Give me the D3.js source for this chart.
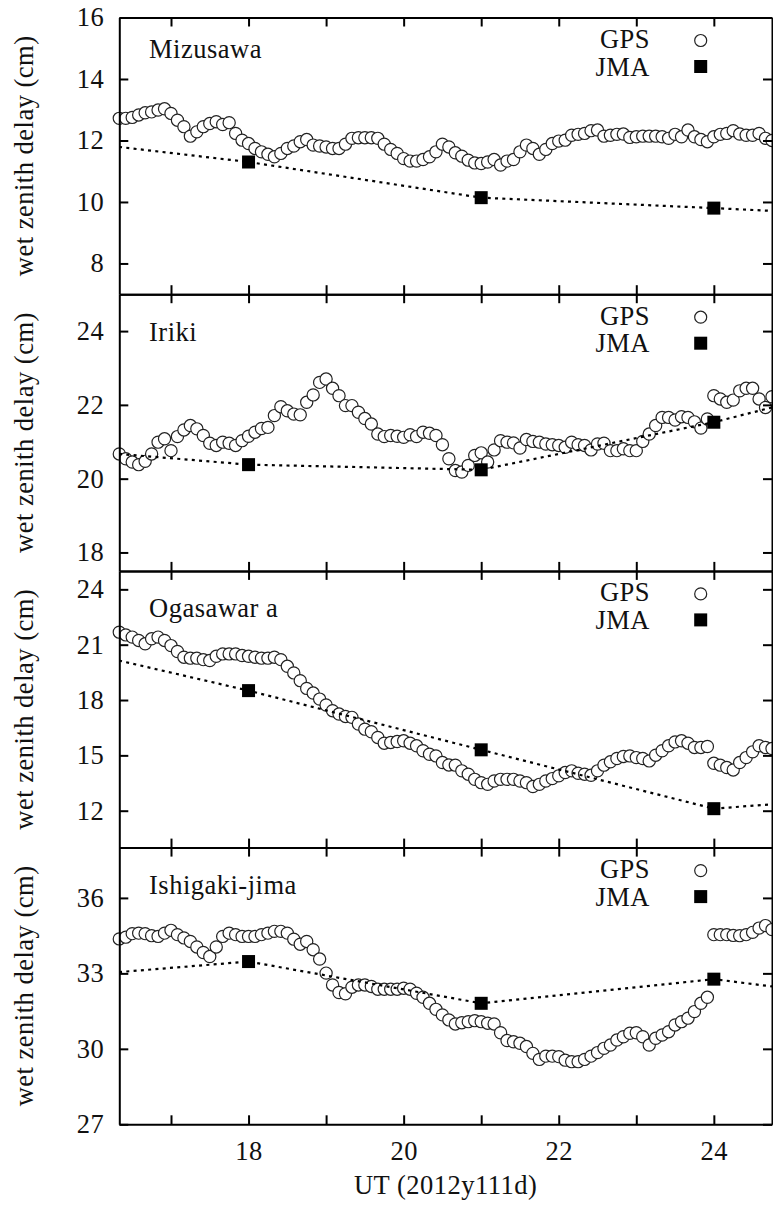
<!DOCTYPE html>
<html>
<head>
<meta charset="utf-8">
<script src="https://cdn.jsdelivr.net/npm/d3@7"></script>
<style>
body { margin: 0; background: #fff; }
svg text { font-family: "Liberation Serif", "DejaVu Serif", serif; fill: #111; letter-spacing: 0.5px; }
</style>
</head>
<body>
<div class="chart-container"></div>
<script>
// GPS solutions every 5 minutes from 16:20 UT
var gpsStart = 16 + 20 / 60,
    gpsStep = 5 / 60;

var stations = ["Mizusawa", "Iriki", "Ogasawar a", "Ishigaki-jima"];

var mizusawaGps = [12.72, 12.72, 12.75, 12.83, 12.90, 12.93, 12.99, 13.03, 12.88, 12.66,
  12.45, 12.14, 12.28, 12.45, 12.55, 12.61, 12.52, 12.58, 12.23, 12.01,
  11.90, 11.74, 11.63, 11.55, 11.47, 11.58, 11.74, 11.82, 11.96, 12.03,
  11.85, 11.82, 11.79, 11.74, 11.74, 11.88, 12.07, 12.09, 12.09, 12.09,
  12.07, 11.88, 11.71, 11.58, 11.41, 11.33, 11.33, 11.38, 11.47, 11.63,
  11.88, 11.79, 11.60, 11.49, 11.36, 11.27, 11.25, 11.30, 11.38, 11.20,
  11.33, 11.38, 11.63, 11.85, 11.74, 11.55, 11.71, 11.90, 11.98, 12.01,
  12.17, 12.20, 12.23, 12.32, 12.34, 12.14, 12.17, 12.20, 12.21, 12.10,
  12.12, 12.14, 12.14, 12.14, 12.12, 12.07, 12.20, 12.12, 12.34, 12.12,
  12.03, 11.96, 12.12, 12.20, 12.23, 12.32, 12.21, 12.17, 12.17, 12.23,
  12.07, 12.00];

var irikiGps = [20.67, 20.54, 20.45, 20.38, 20.47, 20.67, 20.99, 21.08, 20.76, 21.14,
  21.32, 21.44, 21.35, 21.17, 20.96, 20.90, 20.99, 20.96, 20.90, 21.03,
  21.15, 21.26, 21.36, 21.39, 21.71, 21.95, 21.84, 21.75, 21.73, 22.07,
  22.27, 22.61, 22.70, 22.45, 22.25, 21.98, 21.98, 21.80, 21.63, 21.48,
  21.21, 21.14, 21.17, 21.15, 21.12, 21.19, 21.14, 21.26, 21.23, 21.17,
  20.92, 20.54, 20.22, 20.18, 20.36, 20.63, 20.70, 20.45, 20.78, 21.03,
  20.99, 20.97, 20.83, 21.06, 21.01, 20.99, 20.94, 20.92, 20.90, 20.85,
  20.99, 20.92, 20.90, 20.78, 20.94, 20.96, 20.76, 20.76, 20.81, 20.76,
  20.76, 21.01, 21.21, 21.44, 21.66, 21.66, 21.59, 21.68, 21.66, 21.54,
  21.37, 21.62, 22.25, 22.16, 22.07, 22.13, 22.38, 22.45, 22.45, 22.16,
  21.93, 22.22];

var ogasawaraGps = [21.68, 21.53, 21.41, 21.23, 21.05, 21.32, 21.41, 21.23, 20.95, 20.63,
  20.32, 20.27, 20.27, 20.19, 20.14, 20.37, 20.50, 20.50, 20.50, 20.41,
  20.37, 20.32, 20.27, 20.27, 20.32, 20.19, 19.83, 19.47, 19.05, 18.63,
  18.38, 18.05, 17.73, 17.42, 17.24, 17.11, 17.06, 16.70, 16.42, 16.28,
  15.97, 15.66, 15.70, 15.75, 15.79, 15.66, 15.52, 15.25, 15.06, 14.97,
  14.61, 14.48, 14.47, 14.16, 13.98, 13.70, 13.52, 13.43, 13.61, 13.70,
  13.70, 13.70, 13.61, 13.52, 13.31, 13.43, 13.61, 13.74, 13.89, 14.07,
  14.16, 14.03, 13.98, 13.92, 14.16, 14.47, 14.65, 14.83, 14.94, 14.97,
  14.88, 14.83, 14.70, 15.01, 15.25, 15.52, 15.73, 15.79, 15.66, 15.43,
  15.43, 15.48, 14.57, 14.47, 14.34, 14.21, 14.61, 14.88, 15.19, 15.52,
  15.43, 15.37];

var ishigakiGps = [34.37, 34.44, 34.58, 34.60, 34.58, 34.50, 34.47, 34.60, 34.71, 34.54,
  34.41, 34.27, 34.05, 33.83, 33.67, 34.05, 34.47, 34.60, 34.54, 34.47,
  34.47, 34.47, 34.54, 34.60, 34.67, 34.67, 34.60, 34.36, 34.16, 34.27,
  33.94, 33.57, 33.01, 32.54, 32.24, 32.19, 32.45, 32.54, 32.54, 32.48,
  32.37, 32.37, 32.37, 32.37, 32.41, 32.37, 32.21, 32.05, 31.81, 31.57,
  31.35, 31.15, 30.99, 31.04, 31.08, 31.12, 31.08, 31.02, 30.99, 30.64,
  30.33, 30.28, 30.22, 30.09, 29.82, 29.58, 29.71, 29.71, 29.69, 29.55,
  29.49, 29.49, 29.58, 29.71, 29.85, 30.02, 30.15, 30.35, 30.48, 30.62,
  30.64, 30.48, 30.15, 30.42, 30.55, 30.68, 30.95, 31.08, 31.22, 31.48,
  31.81, 32.05, 34.54, 34.54, 34.54, 34.51, 34.50, 34.54, 34.63, 34.80,
  34.90, 34.74];

// JMA analysis: dotted line runs edge to edge, squares only at 18, 21, 24 UT
var jmaTimes = [16.33, 18, 21, 24, 24.75],
    jmaMarked = [false, true, true, true, false];

var mizusawaJma = [11.79, 11.30, 10.14, 9.80, 9.71];
var irikiJma = [20.67, 20.38, 20.24, 21.53, 21.93];
var ogasawaraJma = [20.14, 18.51, 15.30, 12.11, 12.35];
var ishigakiJma = [33.05, 33.47, 31.81, 32.77, 32.48];

// y ranges and tick labels per station
var mizusawaRange = [7, 16], mizusawaTicks = [8, 10, 12, 14, 16];
var irikiRange = [17.5, 25], irikiTicks = [18, 20, 22, 24];
var ogasawaraRange = [10, 25], ogasawaraTicks = [12, 15, 18, 21, 24];
var ishigakiRange = [27, 38], ishigakiTicks = [27, 30, 33, 36];

var hourRange = [16 + 20 / 60, 24.75],
    hourTicks = [17, 18, 19, 20, 21, 22, 23, 24],
    hourLabels = [18, 20, 22, 24];

var panels = [
  {name: stations[0], gps: mizusawaGps, jma: mizusawaJma, range: mizusawaRange, ticks: mizusawaTicks, nameDy: 40},
  {name: stations[1], gps: irikiGps, jma: irikiJma, range: irikiRange, ticks: irikiTicks, nameDy: 46.5},
  {name: stations[2], gps: ogasawaraGps, jma: ogasawaraJma, range: ogasawaraRange, ticks: ogasawaraTicks, nameDy: 46},
  {name: stations[3], gps: ishigakiGps, jma: ishigakiJma, range: ishigakiRange, ticks: ishigakiTicks, nameDy: 46.5}
];

var chartWidth = 773,
    chartHeight = 1206,
    plotLeft = 119.3,
    plotRight = 772,
    plotTop = 17.5,
    panelHeight = 276.7,
    fontSize = 26.5,
    serif = "'Liberation Serif', 'DejaVu Serif', serif";

var svg = d3.select("div.chart-container").append("svg")
    .attr("width", chartWidth)
    .attr("height", chartHeight);

var x = d3.scaleLinear()
    .domain(hourRange)
    .range([plotLeft, plotRight]);

var line = d3.line()
    .x(function(d) { return x(d.t); })
    .y(function(d) { return d.y; });

function styleAxis(g) {
  g.attr("font-size", fontSize)
    .attr("font-family", null);
  g.selectAll("path.domain").attr("stroke", "#000").attr("stroke-width", 2);
  g.selectAll(".tick line").attr("stroke", "#000").attr("stroke-width", 2);
  g.selectAll(".tick text")
      .attr("fill", "#111")
      .style("font-family", serif);
}

panels.forEach(function(p, k) {
  var y0 = plotTop + panelHeight * k,
      y1 = y0 + panelHeight;

  var y = d3.scaleLinear()
      .domain(p.range)
      .range([y1, y0]);

  var g = svg.append("g").attr("class", "panel");

  g.append("clipPath")
      .attr("id", "clip" + k)
    .append("rect")
      .attr("x", plotLeft)
      .attr("y", y0)
      .attr("width", plotRight - plotLeft)
      .attr("height", panelHeight);

  // GPS circles, white filled so later ones cover earlier ones
  g.selectAll("circle.gps")
      .data(p.gps)
    .enter().append("circle")
      .attr("class", "gps")
      .attr("cx", function(d, i) { return x(gpsStart + i * gpsStep); })
      .attr("cy", function(d) { return y(d); })
      .attr("r", 6.1)
      .attr("fill", "#fff")
      .attr("stroke", "#222")
      .attr("stroke-width", 1.2);

  // JMA dotted line on top of the circles
  var jmaPts = p.jma.map(function(v, i) { return {t: jmaTimes[i], y: y(v)}; });
  g.append("path")
      .attr("clip-path", "url(#clip" + k + ")")
      .attr("d", line(jmaPts))
      .attr("fill", "none")
      .attr("stroke", "#000")
      .attr("stroke-width", 2.2)
      .attr("stroke-dasharray", "3,4.3");

  // JMA squares
  g.selectAll("rect.jma")
      .data(jmaPts.filter(function(d, i) { return jmaMarked[i]; }))
    .enter().append("rect")
      .attr("class", "jma")
      .attr("x", function(d) { return x(d.t) - 6.5; })
      .attr("y", function(d) { return d.y - 6.5; })
      .attr("width", 13)
      .attr("height", 13)
      .attr("fill", "#000");

  // frame with inward ticks on all four sides
  g.append("g")
      .attr("transform", "translate(" + plotLeft + ",0)")
      .call(d3.axisLeft(y).tickValues(p.ticks).tickSize(-9).tickSizeOuter(0).tickPadding(15))
      .call(styleAxis);

  g.append("g")
      .attr("transform", "translate(" + plotRight + ",0)")
      .call(d3.axisRight(y).tickValues(p.ticks).tickSize(-9).tickSizeOuter(0).tickFormat(""))
      .call(styleAxis);

  g.append("g")
      .attr("transform", "translate(0," + y0 + ")")
      .call(d3.axisTop(x).tickValues(hourTicks).tickSize(-9).tickSizeOuter(0).tickFormat(""))
      .call(styleAxis);

  g.append("g")
      .attr("transform", "translate(0," + y1 + ")")
      .call(d3.axisBottom(x).tickValues(hourTicks).tickSize(-9).tickSizeOuter(0).tickPadding(17)
        .tickFormat(function(d) { return (k === panels.length - 1 && hourLabels.indexOf(d) >= 0) ? d : ""; }))
      .call(styleAxis);

  // station name
  g.append("text")
      .attr("x", 149)
      .attr("y", y0 + p.nameDy)
      .attr("font-size", fontSize)
      .text(p.name);

  // legend
  g.append("text")
      .attr("x", 650)
      .attr("y", y0 + 30.5)
      .attr("text-anchor", "end")
      .attr("font-size", fontSize)
      .text("GPS");
  g.append("text")
      .attr("x", 650)
      .attr("y", y0 + 58)
      .attr("text-anchor", "end")
      .attr("font-size", fontSize)
      .text("JMA");
  g.append("circle")
      .attr("cx", 700.7)
      .attr("cy", y0 + 23)
      .attr("r", 6)
      .attr("fill", "#fff")
      .attr("stroke", "#222")
      .attr("stroke-width", 1.2);
  g.append("rect")
      .attr("x", 700.7 - 6.5)
      .attr("y", y0 + 49 - 6.5)
      .attr("width", 13)
      .attr("height", 13)
      .attr("fill", "#000");

  // y axis title
  g.append("text")
      .attr("transform", "translate(33," + (y0 + y1) / 2 + ") rotate(-90)")
      .attr("text-anchor", "middle")
      .attr("font-size", fontSize)
      .text("wet zenith delay (cm)");
});

svg.append("text")
    .attr("x", (plotLeft + plotRight) / 2)
    .attr("y", 1194)
    .attr("text-anchor", "middle")
    .attr("font-size", fontSize)
    .text("UT (2012y111d)");
</script>
</body>
</html>
